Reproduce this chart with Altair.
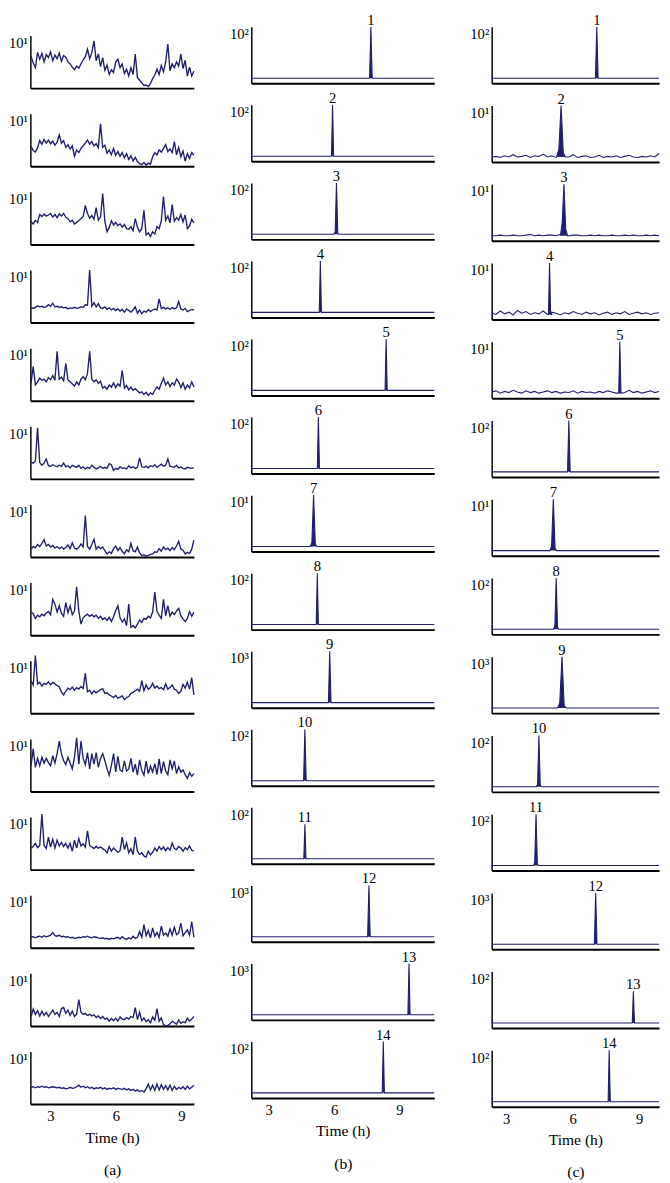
import altair as alt
import numpy as np
import pandas as pd

FONT = "Liberation Serif"
NAVY = "#1f1f70"

# ---------------- axes / labels ----------------
A_DOMAIN = [2.08, 9.57]
B_DOMAIN = [2.2, 10.6]
C_DOMAIN = [2.35, 9.9]
TIME_TICKS = [3, 6, 9]
COLUMN_LABELS = ["(a)", "(b)", "(c)"]
PEAK_LABELS = [str(i) for i in range(1, 15)]
POWER_LABEL = {10: "10¹", 100: "10²", 1000: "10³"}

# ---------------- column (a): background traces (0-10 scale, top label 10¹) ----------------
a1 = [6.1, 4.8, 3.9, 6.8, 5.5, 6.6, 5.0, 6.4, 5.8, 6.9, 5.2, 6.3, 5.6, 6.7, 5.1, 6.2,
      5.9, 5.0, 4.6, 4.0, 3.5, 4.2, 3.8, 4.6, 5.4, 6.0, 7.4, 5.6, 6.8, 9.0, 5.2, 6.5,
      4.1, 5.8, 3.4, 4.4, 2.6, 3.5, 3.0, 4.9, 5.5, 3.9, 4.6, 2.8, 3.6, 2.3, 3.9, 2.6,
      6.5, 2.0, 1.5, 1.0, 0.5, 0.6, 0.3, 0.9, 1.8, 2.5, 3.6, 2.6, 4.3, 3.1, 5.0, 8.4,
      3.3, 4.6, 3.9, 5.0, 4.2, 6.5, 3.7, 5.3, 2.3, 4.0, 2.3, 3.2]
a2 = [3.8, 3.0, 2.7, 3.5, 4.9, 4.2, 5.1, 4.4, 5.0, 4.3, 4.8, 4.0, 4.6, 6.0, 4.4, 4.9,
      3.6, 4.1, 3.3, 3.9, 1.9, 3.1, 2.6, 3.4, 3.9, 4.4, 5.0, 4.2, 4.7, 3.9, 4.3, 3.5,
      8.1, 3.6, 4.0, 2.5, 3.1, 2.2, 3.4, 2.1, 2.8, 1.9, 2.6, 1.6, 2.4, 1.3, 2.0, 1.0,
      1.7, 0.9, 0.5, 0.3, 0.7, 0.2, 0.6, 0.4, 1.8, 2.6, 2.2, 3.1, 2.7, 3.4, 4.1, 2.8,
      3.3, 2.6, 4.7, 2.2, 3.6, 1.8, 2.9, 1.0, 2.4, 1.5, 2.6, 2.1]
a3 = [4.4, 3.9, 4.6, 4.2, 5.7, 5.3, 5.8, 5.4, 5.6, 5.9, 5.2, 5.7, 5.1, 5.8, 5.4, 5.9,
      5.2, 4.9, 4.3, 4.6, 3.9, 4.2, 4.5, 4.9, 5.3, 7.4, 5.9, 5.0, 5.5, 4.8, 7.0, 4.6,
      5.2, 9.7, 4.4, 2.4, 3.2, 4.5, 3.7, 4.2, 3.6, 3.9, 3.3, 3.8, 3.0, 2.9, 3.4, 2.6,
      4.9, 3.3, 2.4, 3.0, 6.5, 1.8, 2.2, 1.5, 2.4, 2.0, 3.4, 3.0, 4.5, 9.1, 4.6, 5.4,
      4.1, 7.6, 4.4, 5.1, 4.6, 5.7, 4.3, 5.6, 3.0, 3.5, 4.8, 4.1]
a4 = [2.9, 2.7, 2.9, 3.2, 3.0, 3.1, 2.9, 3.0, 3.4, 3.1, 3.7, 3.0, 3.1, 2.9, 3.0, 2.8,
      2.9, 2.6, 2.8, 2.7, 2.9, 2.7, 2.8, 3.0, 2.9, 3.4, 3.3, 10.0, 3.1, 3.8, 3.0, 3.6,
      2.8, 2.7, 3.0, 2.5, 2.8, 2.4, 2.7, 2.3, 2.6, 2.2, 2.5, 2.0, 2.6, 2.3, 2.0, 2.4,
      3.0, 1.8, 2.4, 1.7, 2.2, 2.0, 2.5, 2.1, 2.4, 2.6, 2.4, 4.5, 2.7, 2.9, 2.6, 2.8,
      2.5, 2.9, 2.6, 2.8, 4.0, 2.6, 2.4, 2.7, 2.1, 2.3, 2.5, 2.4]
a5 = [3.4, 6.5, 3.0, 3.6, 4.3, 3.9, 4.1, 3.6, 4.4, 4.0, 4.8, 3.9, 9.4, 4.1, 4.5, 3.8,
      7.1, 4.0, 3.6, 3.2, 2.8, 3.6, 3.0, 4.1, 4.6, 4.0, 5.2, 9.4, 4.1, 3.6, 4.0, 3.3,
      3.7, 2.4, 2.7, 2.2, 3.0, 2.6, 3.4, 2.5, 3.2, 2.8, 5.8, 2.4, 2.9, 2.1, 2.6, 2.0,
      2.3, 1.9, 1.5, 1.7, 1.2, 1.6, 1.0, 1.5, 1.2, 2.0, 2.6, 2.2, 3.3, 4.3, 3.0, 3.6,
      2.7, 3.4, 3.0, 4.1, 3.6, 2.5, 3.4, 2.2, 3.0, 2.4, 3.6, 2.6]
a6 = [3.2, 3.0, 3.4, 9.7, 3.1, 2.6, 3.0, 3.8, 2.5, 2.4, 2.7, 2.5, 2.3, 2.6, 2.4, 3.0,
      2.3, 2.5, 2.1, 2.6, 2.4, 2.2, 2.6, 2.0, 2.3, 1.9, 2.2, 2.0, 2.6, 2.2, 1.9, 2.1,
      2.4, 2.0, 2.2, 2.0, 2.9, 2.7, 1.6, 2.0, 1.8, 2.3, 2.0, 2.1, 1.9, 2.5, 2.1, 2.3,
      2.0, 2.2, 4.0, 2.3, 2.2, 2.4, 2.1, 2.5, 2.3, 2.7, 2.2, 2.5, 2.8, 2.4, 2.6, 3.8,
      2.4, 2.3, 2.2, 2.6, 2.1, 2.3, 2.0, 1.9, 2.2, 2.1, 2.0, 2.1]
a7 = [1.5, 2.0, 1.8, 2.4, 2.0, 2.6, 3.3, 2.1, 2.4, 1.9, 2.2, 1.7, 2.0, 1.6, 1.9, 1.5,
      1.8, 2.3, 1.6, 2.7, 1.7, 1.5, 1.8, 2.5, 1.9, 7.9, 2.0, 1.5, 2.4, 3.4, 1.5, 2.0,
      1.6, 1.9, 1.2, 0.6, 1.0, 0.7, 1.6, 2.1, 1.2, 1.8, 1.1, 0.6, 1.4, 1.0, 2.6, 1.2,
      1.0, 1.9, 0.8, 0.3, 0.4, 0.2, 0.3, 0.5, 0.6, 1.0, 0.9, 1.6, 1.1, 1.9, 1.4, 1.7,
      1.2, 1.8, 1.4, 2.1, 3.0, 1.5, 1.3, 0.6, 0.9, 0.7, 1.5, 3.2]
a8 = [4.4, 4.1, 3.2, 3.8, 3.5, 4.0, 3.7, 4.2, 4.5, 3.9, 6.8, 5.9, 4.4, 5.6, 4.2, 3.6,
      6.2, 4.3, 5.6, 3.9, 4.6, 9.2, 4.6, 2.1, 3.3, 3.7, 4.0, 3.6, 3.9, 3.5, 3.8, 3.2,
      3.6, 3.0, 3.3, 2.8, 3.4, 2.6, 3.5, 4.7, 5.6, 3.3, 2.5, 3.1, 1.8, 5.9, 1.5, 1.8,
      1.4, 2.1, 2.9, 2.4, 3.2, 3.0, 3.6, 3.3, 4.4, 8.2, 4.6, 3.8, 3.2, 6.8, 3.7, 5.6,
      3.6, 4.4, 3.9, 4.6, 5.1, 3.7, 3.1, 2.6, 3.2, 4.5, 3.6, 4.4]
a9 = [6.2, 5.4, 11.0, 5.6, 5.9, 5.2, 5.7, 5.5, 6.0, 5.4, 5.9, 5.6, 5.3, 5.0, 4.1, 3.5,
      4.2, 4.8, 4.5, 5.0, 4.4, 4.9, 4.6, 5.1, 4.7, 7.6, 4.1, 4.4, 3.7, 4.3, 3.9, 4.2,
      4.5, 4.7, 3.8, 3.9, 3.5, 3.3, 3.0, 3.4, 2.9, 3.1, 3.3, 2.6, 3.0, 3.2, 3.8, 4.0,
      4.3, 4.6, 4.2, 6.2, 4.3, 5.4, 4.6, 4.9, 5.7, 4.8, 5.2, 4.7, 4.9, 4.5, 5.6, 4.6,
      4.9, 5.4, 4.6, 4.4, 3.8, 4.2, 5.5, 4.8, 5.9, 4.6, 6.8, 3.5]
a10 = [4.9, 8.1, 4.6, 6.3, 4.9, 6.5, 5.4, 6.3, 5.5, 4.9, 6.8, 5.4, 7.2, 9.6, 7.2, 5.9,
       5.1, 6.5, 5.4, 4.3, 6.5, 10.2, 5.2, 9.6, 6.3, 5.1, 7.4, 4.3, 7.2, 5.2, 7.4, 4.6,
       6.3, 7.2, 5.9, 4.3, 3.1, 4.9, 7.2, 3.7, 6.7, 4.1, 3.8, 5.8, 3.9, 4.3, 6.3, 3.7,
       5.2, 3.1, 6.0, 4.0, 3.1, 5.8, 3.4, 4.8, 3.7, 5.3, 3.2, 6.2, 3.4, 5.7, 3.9, 3.2,
       6.0, 4.3, 5.8, 3.4, 4.7, 3.7, 4.1, 3.2, 2.5, 3.6, 2.9, 3.4]
a11 = [4.1, 4.4, 5.0, 4.2, 4.6, 10.6, 4.6, 4.0, 6.2, 4.3, 5.8, 4.1, 5.6, 4.5, 5.2, 4.4,
       5.0, 4.1, 5.0, 3.5, 5.6, 4.1, 5.9, 4.5, 4.9, 4.3, 7.4, 4.6, 4.3, 4.0, 4.4, 4.1,
       4.3, 4.0, 3.7, 3.2, 4.4, 3.5, 4.1, 3.7, 3.3, 3.6, 6.2, 3.8, 5.1, 3.2, 4.0, 2.9,
       6.2, 3.5, 2.9, 3.2, 2.6, 2.4, 3.5, 2.8, 3.3, 4.1, 3.5, 4.4, 3.8, 4.3, 3.6, 4.2,
       3.7, 5.0, 4.0, 3.8, 4.4, 4.1, 3.5, 4.2, 3.8, 4.5, 3.7, 3.5]
a12 = [2.0, 2.1, 1.9, 2.1, 2.2, 2.0, 2.3, 2.1, 2.2, 2.4, 2.9, 2.3, 2.2, 2.4, 2.1, 2.2,
       2.0, 2.1, 1.9, 2.0, 1.8, 1.9, 2.0, 1.9, 2.1, 2.0, 2.2, 2.0, 1.9, 2.1, 2.0, 1.9,
       1.8, 1.9, 1.7, 1.8, 1.6, 1.8, 1.7, 1.9, 2.0, 1.7, 2.1, 1.8, 1.6, 1.9, 1.7, 2.2,
       1.8, 2.0, 3.1, 2.0, 4.4, 2.3, 3.3, 1.9, 3.8, 2.2, 2.9, 2.0, 4.1, 2.4, 2.8, 2.2,
       3.6, 2.4, 3.9, 2.5, 2.8, 4.7, 2.3, 2.9, 3.4, 2.4, 5.0, 2.0]
a13 = [1.8, 3.2, 2.2, 2.9, 1.9, 2.8, 2.0, 2.6, 1.8, 2.4, 3.0, 2.2, 2.6, 1.8, 3.3, 3.5,
       2.4, 3.0, 2.0, 2.8, 1.8, 2.3, 5.0, 2.6, 2.2, 2.4, 2.0, 2.2, 1.9, 2.1, 1.6, 1.9,
       1.4, 1.8, 1.3, 1.5, 0.9, 1.4, 1.0, 1.5, 0.9, 1.7, 1.3, 1.2, 1.6, 1.3, 1.8, 1.6,
       3.5, 1.2, 2.6, 1.0, 1.5, 0.8, 1.2, 0.6, 1.7, 1.1, 3.3, 0.9, 1.5, 0.3, 0.0, 0.1,
       0.4, 0.9, 0.6, 0.3, 1.1, 0.5, 0.8, 0.6, 1.5, 0.9, 1.3, 1.8]
a14 = [3.1, 3.3, 3.1, 3.3, 3.2, 3.4, 3.2, 3.3, 3.1, 3.2, 3.3, 3.2, 3.1, 3.2, 3.0, 3.1,
       2.9, 3.0, 3.2, 3.0, 3.1, 3.3, 3.6, 3.2, 3.4, 3.1, 3.3, 3.0, 3.2, 2.9, 3.1, 3.0,
       3.2, 2.9, 3.1, 2.8, 3.0, 2.9, 3.1, 2.8, 3.0, 2.9, 2.8, 3.0, 2.7, 2.9, 2.6, 2.8,
       2.5, 2.7, 2.4, 2.6, 2.3, 2.9, 3.8, 2.7, 3.6, 2.6, 3.8, 2.7, 3.7, 2.8, 3.5, 2.7,
       3.6, 2.6, 3.4, 2.8, 3.2, 2.9, 3.3, 2.8, 3.4, 2.9, 3.2, 3.6]
A_TRACES = [a1, a2, a3, a4, a5, a6, a7, a8, a9, a10, a11, a12, a13, a14]

# ---------------- column (b): peaks ----------------
B_PEAK_T = [7.69, 5.93, 6.11, 5.37, 8.39, 5.28, 5.06, 5.23, 5.80, 4.66, 4.66, 7.60, 9.44, 8.26]
B_TOP = [100, 100, 100, 100, 100, 100, 10, 100, 1000, 100, 100, 1000, 1000, 100]
B_PEAK_V = [100, 100, 100, 100, 100, 100, 10, 100, 1000, 100, 70, 1000, 1000, 100]
B_HALF_W = [0.06, 0.05, 0.06, 0.05, 0.05, 0.05, 0.08, 0.05, 0.06, 0.06, 0.05, 0.06, 0.05, 0.05]
B_SHOULDER = [0, 0, 0.05, 0, 0, 0, 0.08, 0, 0, 0, 0, 0, 0, 0]

# ---------------- column (c): peaks ----------------
C_PEAK_T = [7.09, 5.48, 5.61, 4.96, 8.13, 5.83, 5.13, 5.26, 5.52, 4.48, 4.35, 7.04, 8.74, 7.65]
C_TOP = [100, 10, 10, 10, 10, 100, 10, 100, 1000, 100, 100, 1000, 100, 100]
C_PEAK_V = [100, 10, 10, 10, 10, 100, 10, 100, 1000, 100, 100, 1000, 65, 100]
C_HALF_W = [0.06, 0.1, 0.08, 0.05, 0.05, 0.06, 0.08, 0.06, 0.1, 0.06, 0.06, 0.06, 0.05, 0.05]
C_SHOULDER = [0, 0.15, 0.25, 0, 0, 0, 0.08, 0.08, 0.1, 0.05, 0.05, 0, 0, 0]

# noisy baselines of the 10¹ panels in column (c) (absolute values, 0-10 scale)
c2_base = [0.9, 1.0, 0.8, 1.1, 0.9, 1.3, 0.9, 1.0, 1.2, 0.8, 1.1, 1.0, 1.4, 0.9, 1.1, 0.8,
           1.2, 1.0, 0.9, 1.3, 0.8, 1.0, 1.1, 0.8, 0.9, 1.2, 0.8, 1.0, 0.9, 1.1, 0.8, 1.0,
           1.2, 0.9, 0.8, 1.0, 0.9, 1.1, 0.9, 1.5]
c3_base = [0.9, 0.9, 1.0, 0.9, 0.9, 1.0, 0.9, 0.9, 1.0, 1.1, 0.9, 1.0, 0.9, 1.0, 1.0, 0.9,
           1.1, 1.0, 0.9, 1.0, 1.0, 0.9, 0.9, 1.0, 0.9, 1.0, 0.9, 0.9, 1.0, 0.9, 0.9, 1.0,
           0.9, 1.0, 0.9, 0.9, 1.0, 0.9, 1.0, 0.9]
c4_base = [1.2, 0.9, 1.5, 1.0, 1.3, 0.8, 1.6, 1.1, 1.4, 0.9, 1.2, 1.0, 1.5, 0.9, 1.3, 1.1,
           0.8, 1.2, 1.0, 1.4, 1.1, 0.9, 1.3, 1.0, 1.2, 0.8, 1.1, 1.3, 0.9, 1.2, 1.0, 1.4,
           0.9, 1.1, 1.3, 1.0, 1.2, 0.9, 1.1, 1.2]
c5_base = [1.1, 1.3, 0.9, 1.2, 1.0, 1.4, 1.1, 0.9, 1.3, 1.0, 1.2, 0.9, 1.1, 1.3, 1.0, 1.2,
           0.9, 1.1, 1.0, 1.3, 0.9, 1.2, 1.0, 1.1, 0.9, 1.2, 1.0, 1.3, 1.1, 0.9, 1.2, 1.0,
           1.4, 1.0, 1.2, 0.9, 1.1, 1.3, 1.0, 1.2]
C_NOISY_BASE = {1: c2_base, 2: c3_base, 3: c4_base, 4: c5_base}

BASE_FRAC = 0.09

# ---------------- layout sizes ----------------
W_A, W_B, W_C = 168, 188, 172
H_A, H_BC = 54, 58
STEP_A, STEP_B, STEP_C = 80.3, 80.2, 80.9
SPACER_A = 9


def x_enc(domain, bottom, letter):
    common = dict(domainColor="black", domainWidth=2, grid=False, ticks=False)
    if bottom:
        ax = alt.Axis(values=TIME_TICKS, labelFont=FONT, labelFontSize=15,
                      labelColor="black", labelPadding=5, labelAngle=0,
                      title=["Time (h)", letter], titleFont=FONT, titleFontSize=16,
                      titleFontWeight="normal", titleColor="black", titlePadding=6,
                      titleLineHeight=33, **common)
    else:
        ax = alt.Axis(values=TIME_TICKS, labels=False, title=None, **common)
    return alt.X("t:Q", scale=alt.Scale(domain=domain, nice=False, zero=False), axis=ax)


def y_enc(top):
    return alt.Y("v:Q", scale=alt.Scale(domain=[0, top], nice=False, zero=True),
                 axis=alt.Axis(values=[top], labelExpr=f"'{POWER_LABEL[top]}'",
                               ticks=False, labelBaseline="top", labelPadding=3,
                               labelFont=FONT, labelFontSize=15, labelColor="black",
                               title=None, domainColor="black", domainWidth=1.5,
                               grid=False))


def spacer(width, height):
    return alt.Chart(pd.DataFrame({"t": [0.0]})).mark_point(opacity=0).encode(
        x=alt.X("t:Q", axis=None), y=alt.Y("t:Q", axis=None)).properties(
        width=width, height=height)


def a_panel(i):
    vals = A_TRACES[i]
    df = pd.DataFrame({"t": np.linspace(A_DOMAIN[0] + 0.03, A_DOMAIN[1], len(vals)), "v": vals})
    xe = x_enc(A_DOMAIN, i == 13, COLUMN_LABELS[0])
    ye = y_enc(10)
    return alt.Chart(df).mark_line(color=NAVY, strokeWidth=1.4).encode(
        x=xe, y=ye).properties(width=W_A, height=H_A)


def peak_panel(i, domain, tops, peak_t, peak_v, half_w, shoulder, noisy, width, letter):
    top = tops[i]
    base = BASE_FRAC * top
    pt, pv, hw, sh = peak_t[i], peak_v[i], half_w[i], shoulder[i]
    if i in noisy:
        bv = noisy[i]
        bt = list(np.linspace(domain[0], domain[1], len(bv)))
    else:
        bt = [domain[0], domain[1]]
        bv = [base, base]
    lo, hi = pt - 2 * hw, pt + 2 * hw
    prof_t = [lo, pt - hw, pt, pt + hw, hi]
    prof_v = [base, base + sh * (pv - base), pv, base + 0.5 * sh * (pv - base), base]
    left = [(t, v) for t, v in zip(bt, bv) if t < lo]
    right = [(t, v) for t, v in zip(bt, bv) if t > hi]
    pts = left + list(zip(prof_t, prof_v)) + right
    trace = pd.DataFrame(pts, columns=["t", "v"])
    area = pd.DataFrame({"t": prof_t, "v": prof_v, "base": [base] * 5})
    lab = pd.DataFrame({"t": [pt], "v": [pv], "label": [PEAK_LABELS[i]]})

    xe = x_enc(domain, i == 13, letter)
    ye = y_enc(top)
    line = alt.Chart(trace).mark_line(color=NAVY, strokeWidth=1.1).encode(x=xe, y=ye)
    fill = alt.Chart(area).mark_area(color=NAVY, opacity=1).encode(
        x=xe, y=ye, y2=alt.Y2("base:Q"))
    text = alt.Chart(lab).mark_text(font=FONT, fontSize=15, color="black",
                                    baseline="alphabetic", dy=-2).encode(
        x=xe, y=ye, text="label:N")
    return alt.layer(line, fill, text).properties(width=width, height=H_BC)


col_a_inner = alt.vconcat(*[a_panel(i) for i in range(14)],
                          spacing=STEP_A - H_A, bounds="flush")
col_a = alt.vconcat(spacer(W_A, SPACER_A), col_a_inner, spacing=0, bounds="flush")

col_b = alt.vconcat(*[peak_panel(i, B_DOMAIN, B_TOP, B_PEAK_T, B_PEAK_V, B_HALF_W,
                                 B_SHOULDER, {}, W_B, COLUMN_LABELS[1])
                      for i in range(14)],
                    spacing=STEP_B - H_BC, bounds="flush")

col_c = alt.vconcat(*[peak_panel(i, C_DOMAIN, C_TOP, C_PEAK_T, C_PEAK_V, C_HALF_W,
                                 C_SHOULDER, C_NOISY_BASE, W_C, COLUMN_LABELS[2])
                      for i in range(14)],
                    spacing=STEP_C - H_BC, bounds="flush")

chart = alt.hconcat(col_a, col_b, col_c, spacing=33).properties(
    padding={"top": -11, "left": 0, "right": 0, "bottom": 0}
).configure_view(stroke="transparent", strokeWidth=0)

chart.save("out.html", embed_options={"renderer": "svg", "actions": False})
